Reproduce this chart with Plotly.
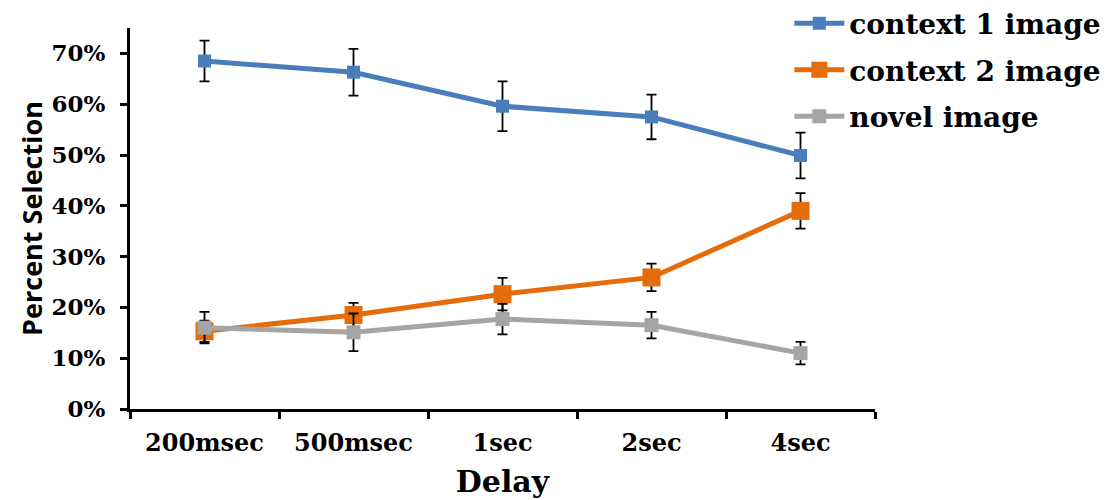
import plotly.graph_objects as go

categories = ["200msec", "500msec", "1sec", "2sec", "4sec"]
ctx1 = [0.685, 0.663, 0.596, 0.575, 0.499]
ctx1_err = [0.040, 0.046, 0.049, 0.044, 0.045]
ctx2 = [0.153, 0.185, 0.226, 0.259, 0.390]
ctx2_err = [0.021, 0.024, 0.032, 0.027, 0.035]
novel = [0.160, 0.151, 0.177, 0.165, 0.110]
novel_err = [0.031, 0.037, 0.030, 0.026, 0.022]
y_ticks = [0, 0.1, 0.2, 0.3, 0.4, 0.5, 0.6, 0.7]
y_labels = ["0%", "10%", "20%", "30%", "40%", "50%", "60%", "70%"]

serif = "DejaVu Serif"

fig = go.Figure()
series = [
    ("context 1 image", ctx1, ctx1_err, "#4A7EBB", 13),
    ("context 2 image", ctx2, ctx2_err, "#E46C0A", 18),
    ("novel image", novel, novel_err, "#A5A5A5", 14),
]
for i, (name, vals, errs, color, msize) in enumerate(series):
    fig.add_trace(go.Scatter(
        x=categories, y=vals, name=name, mode="lines+markers",
        line=dict(color=color, width=5),
        marker=dict(symbol="square", size=msize, color=color),
        error_y=dict(type="data", array=errs, color="black", thickness=1.8, width=5),
        legendgroup=f"g{i}",
    ))

fig.update_layout(
    width=1116, height=500,
    margin=dict(l=122, r=249, t=20, b=99, autoexpand=False),
    plot_bgcolor="white", paper_bgcolor="white",
    showlegend=True,
    legend=dict(x=0.885, y=1.077, xanchor="left", yanchor="top",
                font=dict(family=serif, size=28, color="black", weight="bold"),
                tracegroupgap=7, itemwidth=50, bgcolor="rgba(0,0,0,0)"),
    xaxis=dict(
        type="category", range=[-0.5, 4.5], tickson="boundaries",
        showline=True, linecolor="black", linewidth=3,
        ticks="outside", ticklen=7, tickwidth=3, tickcolor="black",
        showgrid=False, ticklabelstandoff=10,
        tickfont=dict(family=serif, size=24, color="black", weight="bold"),
        title=dict(text="Delay", font=dict(family=serif, size=30, color="black", weight="bold"), standoff=16),
    ),
    yaxis=dict(
        range=[0, 0.75], tickvals=y_ticks, ticktext=y_labels,
        showline=True, linecolor="black", linewidth=3,
        ticks="outside", ticklen=7, tickwidth=3, tickcolor="black",
        showgrid=False, zeroline=False, ticklabelstandoff=10,
        tickfont=dict(family=serif, size=23, color="black", weight="bold"),
        title=dict(text="Percent Selection", font=dict(family="Open Sans", size=27, color="black", weight="bold"), standoff=2),
    ),
)

fig.write_html("out.html")
